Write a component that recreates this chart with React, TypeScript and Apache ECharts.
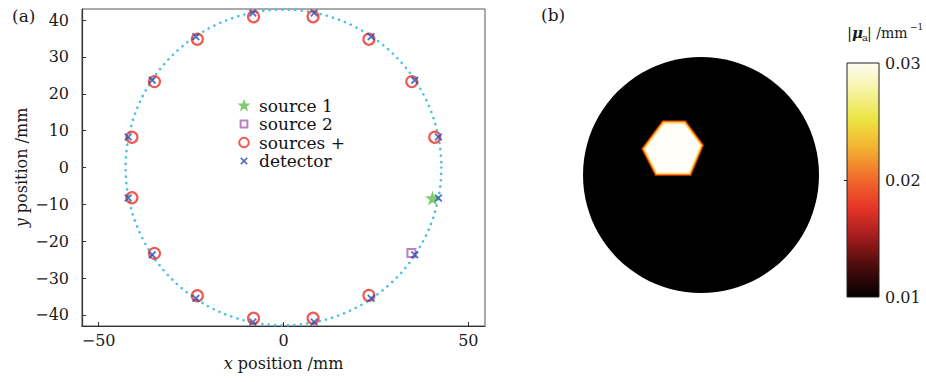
import React, { useEffect, useRef } from 'react';
import * as echarts from 'echarts';

const FONT = '"DejaVu Serif", "Liberation Serif", serif';

// ---- panel (a) data (mm) ----
const detectorX = [41.9, 35.5, 23.7, 8.3, -8.3, -23.7, -35.5, -42.0, -42.0, -35.5, -23.7, -8.3, 8.3, 23.7, 35.5, 41.9];
const detectorY = [8.3, 23.7, 35.5, 41.9, 41.9, 35.5, 23.7, 8.3, -8.3, -23.7, -35.5, -41.9, -41.9, -35.5, -23.7, -8.3];
const sourcesX = [40.9, 34.7, 23.1, 8.0, -8.1, -23.3, -34.9, -41.0, -41.0, -34.9, -23.3, -8.1, 8.0, 23.1];
const sourcesY = [8.2, 23.3, 34.8, 40.9, 40.9, 34.8, 23.3, 8.2, -8.2, -23.3, -34.8, -40.9, -40.9, -34.7];
const source1X = [40.3];
const source1Y = [-8.3];
const source2X = [34.6];
const source2Y = [-23.2];
const domainRadius = 42.7;
const xTicks = [-50, 0, 50];
const yTicks = [-40, -30, -20, -10, 0, 10, 20, 30, 40];

// ---- panel (b) data ----
const backgroundMua = 0.01;
const inclusionMua = 0.03;
const hexX = [-13.5, -6.0, 0.0, -4.2, -16.0, -20.5];
const hexY = [18.8, 18.8, 10.7, 0.6, 0.6, 9.4];
const cbTicks = [0.01, 0.02, 0.03];

const hotStops = [
  { offset: 0, color: '#fdfdf2' },
  { offset: 0.1, color: '#f8f4b0' },
  { offset: 0.24, color: '#ece442' },
  { offset: 0.36, color: '#f3b332' },
  { offset: 0.5, color: '#f0682a' },
  { offset: 0.62, color: '#e63428' },
  { offset: 0.74, color: '#a51d1d' },
  { offset: 0.87, color: '#4a0b0b' },
  { offset: 1, color: '#050000' },
];

const fmt = (v: number) => (v < 0 ? '\u2212' + Math.abs(v) : String(v));

const STAR = 'path://M50,0 L61,35 L98,35 L68,57 L79,91 L50,70 L21,91 L32,57 L2,35 L39,35 Z';
const CROSS = 'path://M0,1.6L1.6,0L5,3.4L8.4,0L10,1.6L6.6,5L10,8.4L8.4,10L5,6.6L1.6,10L0,8.4L3.4,5Z';
// legend icons padded inside a 14x14 box
const ICON_STAR = 'path://M0,0M14,14M7,0.3L8.6,5.1L13.7,5.1L9.6,8.1L11.1,13L7,10L2.9,13L4.4,8.1L0.3,5.1L5.4,5.1Z';
const ICON_SQUARE = 'path://M0,0M14,14M3.6,3.6L10.4,3.6L10.4,10.4L3.6,10.4Z';
const ICON_CIRCLE = 'path://M0,0M14,14M11.8,7A4.8,4.8,0,1,1,2.2,7A4.8,4.8,0,1,1,11.8,7Z';
const ICON_CROSS = 'path://M0,0M14,14M3.2,4.4L4.4,3.2L7,5.8L9.6,3.2L10.8,4.4L8.2,7L10.8,9.6L9.6,10.8L7,8.2L4.4,10.8L3.2,9.6L5.8,7Z';

export default function App() {
  const ref = useRef<HTMLDivElement>(null);
  useEffect(() => {
    if (!ref.current) return;
    const chart = echarts.init(ref.current, null, { renderer: 'svg' });
    const axisText = { fontFamily: FONT, fontSize: 16, color: '#1a1a1a' };
    const option: any = {
      animation: false,
      backgroundColor: '#fff',
      textStyle: { fontFamily: FONT },
      grid: [
        { left: 82, top: 9, width: 403, height: 317, show: true, borderColor: '#555', borderWidth: 1, backgroundColor: 'transparent' },
        { left: 583, top: 57, width: 236, height: 236 },
        { left: 847, top: 63, width: 32, height: 234 },
      ],
      xAxis: [
        {
          gridIndex: 0, type: 'value', min: -54.5, max: 54.5,
          axisLine: { show: true, onZero: false, lineStyle: { color: '#333', width: 1.2 } },
          axisTick: { show: true, inside: true, length: 4, customValues: xTicks, lineStyle: { color: '#333' } },
          axisLabel: { ...axisText, margin: 6, customValues: xTicks, formatter: fmt },
          splitLine: { show: false },
          name: '{i|x} position /mm', nameLocation: 'middle', nameGap: 29,
          nameTextStyle: { ...axisText, rich: { i: { fontFamily: FONT, fontSize: 16, fontStyle: 'italic', color: '#1a1a1a' } } },
        },
        { gridIndex: 1, type: 'value', min: -domainRadius, max: domainRadius, show: false },
        { gridIndex: 2, type: 'value', min: 0, max: 1, show: false },
      ],
      yAxis: [
        {
          gridIndex: 0, type: 'value', min: -43, max: 43,
          axisLine: { show: true, onZero: false, lineStyle: { color: '#333', width: 1.2 } },
          axisTick: { show: true, inside: true, length: 4, customValues: yTicks, lineStyle: { color: '#333' } },
          axisLabel: { ...axisText, margin: 13, customValues: yTicks, formatter: fmt },
          splitLine: { show: false },
          name: '{i|y} position /mm', nameLocation: 'middle', nameGap: 53,
          nameTextStyle: { ...axisText, rich: { i: { fontFamily: FONT, fontSize: 16, fontStyle: 'italic', color: '#1a1a1a' } } },
        },
        { gridIndex: 1, type: 'value', min: -domainRadius, max: domainRadius, show: false },
        {
          gridIndex: 2, type: 'value', min: cbTicks[0], max: cbTicks[2], position: 'right',
          axisLine: { show: false },
          axisTick: { show: true, inside: true, length: 3, customValues: [cbTicks[1]], lineStyle: { color: '#222' } },
          axisLabel: { ...axisText, margin: 6, customValues: cbTicks, formatter: (v: number) => v.toFixed(2) },
          splitLine: { show: false },
        },
      ],
      legend: {
        orient: 'vertical', left: 233, top: 94, padding: [3, 6, 3, 3],
        backgroundColor: '#fff', itemWidth: 14, itemHeight: 14, itemGap: 1.5,
        textStyle: { fontFamily: FONT, fontSize: 17, color: '#111', lineHeight: 17, padding: [0, 0, 0, 3] },
        data: [
          { name: 'source 1', icon: ICON_STAR },
          { name: 'source 2', icon: ICON_SQUARE },
          { name: 'sources +', icon: ICON_CIRCLE },
          { name: 'detector', icon: ICON_CROSS },
        ],
      },
      series: [
        {
          type: 'custom', xAxisIndex: 0, yAxisIndex: 0, z: 1, silent: true,
          data: [[0, 0, domainRadius]],
          renderItem: (params: any, api: any) => {
            const c = api.coord([api.value(0), api.value(1)]);
            const r = api.size([api.value(2), 0])[0];
            return {
              type: 'circle', shape: { cx: c[0], cy: c[1], r },
              style: { fill: 'none', stroke: '#4cc3dd', lineWidth: 2.6, lineDash: [0.1, 6.3], lineCap: 'round' },
            };
          },
        },
        {
          name: 'sources +', type: 'scatter', xAxisIndex: 0, yAxisIndex: 0, z: 3,
          symbol: 'circle', symbolSize: 11,
          itemStyle: { color: 'rgba(255,255,255,0)', borderColor: '#e8322a', borderWidth: 2.2 },
          data: sourcesX.map((x, i) => [x, sourcesY[i]]),
        },
        {
          name: 'source 1', type: 'scatter', xAxisIndex: 0, yAxisIndex: 0, z: 3,
          symbol: STAR, symbolSize: 15,
          itemStyle: { color: '#5cbf4a' },
          data: source1X.map((x, i) => [x, source1Y[i]]),
        },
        {
          name: 'source 2', type: 'scatter', xAxisIndex: 0, yAxisIndex: 0, z: 3,
          symbol: 'rect', symbolSize: 8,
          itemStyle: { color: 'rgba(255,255,255,0)', borderColor: '#a862b8', borderWidth: 2 },
          data: source2X.map((x, i) => [x, source2Y[i]]),
        },
        {
          name: 'detector', type: 'scatter', xAxisIndex: 0, yAxisIndex: 0, z: 4,
          symbol: CROSS, symbolSize: 8,
          itemStyle: { color: '#2a4fb5' },
          data: detectorX.map((x, i) => [x, detectorY[i]]),
        },
        {
          type: 'custom', xAxisIndex: 1, yAxisIndex: 1, silent: true,
          data: [[0, 0, domainRadius, backgroundMua]],
          renderItem: (params: any, api: any) => {
            const c = api.coord([api.value(0), api.value(1)]);
            const r = api.size([api.value(2), 0])[0];
            return { type: 'circle', shape: { cx: c[0], cy: c[1], r }, style: { fill: '#000' } };
          },
        },
        {
          type: 'custom', xAxisIndex: 1, yAxisIndex: 1, silent: true, z: 3,
          data: [[hexX[0], hexY[0], inclusionMua]],
          renderItem: (params: any, api: any) => {
            const pts = hexX.map((x, i) => api.coord([x, hexY[i]]));
            return {
              type: 'group',
              children: [
                { type: 'polygon', shape: { points: pts }, style: { fill: 'none', stroke: '#b8220e', lineWidth: 5.5, lineJoin: 'miter' } },
                { type: 'polygon', shape: { points: pts }, style: { fill: 'none', stroke: '#f28a1e', lineWidth: 3.5, lineJoin: 'miter' } },
                { type: 'polygon', shape: { points: pts }, style: { fill: '#fffef8', stroke: '#fbe06a', lineWidth: 1.4, lineJoin: 'miter' } },
              ],
            };
          },
        },
        {
          type: 'custom', xAxisIndex: 2, yAxisIndex: 2, silent: true,
          data: [[0, cbTicks[2]]],
          renderItem: (params: any, api: any) => {
            const p1 = api.coord([0, cbTicks[2]]);
            const p2 = api.coord([1, cbTicks[0]]);
            return {
              type: 'rect',
              shape: { x: p1[0], y: p1[1], width: p2[0] - p1[0], height: p2[1] - p1[1] },
              style: { fill: new echarts.graphic.LinearGradient(0, 0, 0, 1, hotStops), stroke: '#222', lineWidth: 1 },
            };
          },
        },
      ],
      graphic: [
        { type: 'text', x: 12, y: 16, style: { text: '(a)', fontFamily: FONT, fontSize: 17, fill: '#1a1a1a', verticalAlign: 'middle' } },
        { type: 'text', x: 541, y: 15, style: { text: '(b)', fontFamily: FONT, fontSize: 17, fill: '#1a1a1a', verticalAlign: 'middle' } },
        { type: 'text', x: 847, y: 33, style: { text: '|', fontFamily: FONT, fontSize: 15, fill: '#1a1a1a', verticalAlign: 'middle' } },
        { type: 'text', x: 852, y: 33, style: { text: 'μ', fontFamily: FONT, fontSize: 15, fontWeight: 'bold', fontStyle: 'italic', fill: '#1a1a1a', verticalAlign: 'middle' } },
        { type: 'text', x: 862, y: 37, style: { text: 'a', fontFamily: FONT, fontSize: 10, fill: '#1a1a1a', verticalAlign: 'middle' } },
        { type: 'text', x: 867, y: 33, style: { text: '| /mm', fontFamily: FONT, fontSize: 14, fill: '#1a1a1a', verticalAlign: 'middle' } },
        { type: 'text', x: 910, y: 27, style: { text: '\u22121', fontFamily: FONT, fontSize: 9, fill: '#1a1a1a', verticalAlign: 'middle' } },
      ],
    };
    chart.setOption(option);
    return () => chart.dispose();
  }, []);
  return <div ref={ref} style={{ position: 'fixed', left: 0, top: 0, width: 926, height: 382 }} />;
}
